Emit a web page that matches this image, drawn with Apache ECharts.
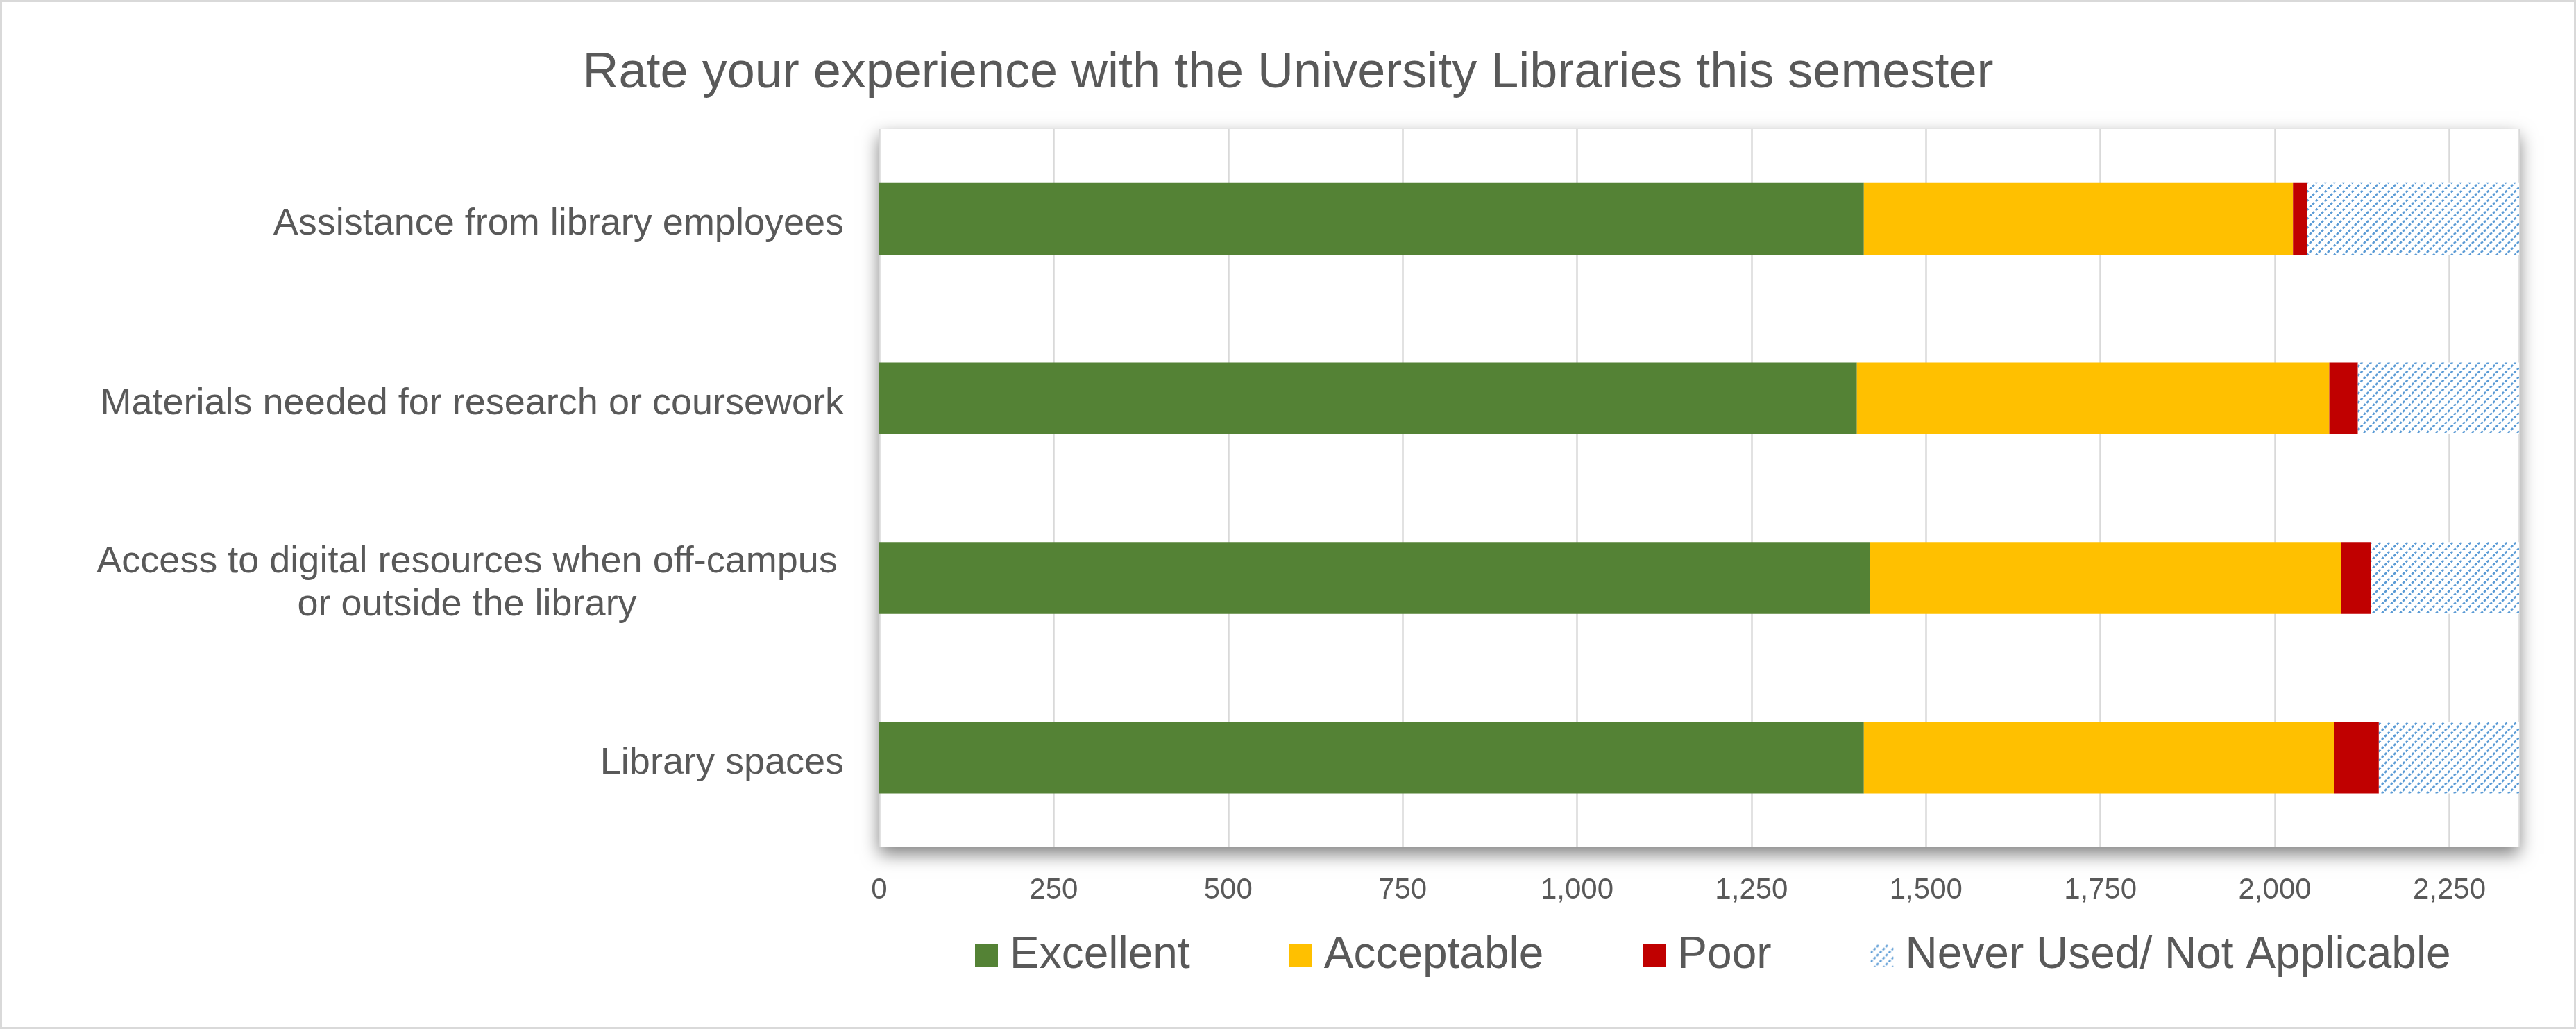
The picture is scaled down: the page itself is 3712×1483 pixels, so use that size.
<!DOCTYPE html>
<html>
<head>
<meta charset="utf-8">
<script src="https://cdn.jsdelivr.net/npm/echarts@6/dist/echarts.min.js"></script>
<style>
  html, body { margin: 0; padding: 0; background: #fff; }
  #chart { width: 3712px; height: 1483px; }
</style>
</head>
<body>
<div id="chart"></div>
<script>
const categories = [
  "Assistance from library employees",
  "Materials needed for research or coursework",
  "Access to digital resources when off-campus\nor outside the library",
  "Library spaces"
];
const seriesNames = ["Excellent", "Acceptable", "Poor", "Never Used/ Not Applicable"];
const excellent = [1411, 1401, 1420, 1411];
const acceptable = [615, 677, 675, 674];
const poor = [20, 41, 43, 64];
const neverUsed = [304, 231, 212, 201];
const xMax = 2350;
const xStep = 250;

const textColor = "#595959";
const font = "'Liberation Sans', Arial, sans-serif";

// blue dotted upward-diagonal hatch, like the Excel pattern fill
const makeHatch = () => {
  const size = 13;
  const c = document.createElement("canvas");
  c.width = size;
  c.height = size;
  const ctx = c.getContext("2d");
  ctx.fillStyle = "#fff";
  ctx.fillRect(0, 0, size, size);
  ctx.strokeStyle = "#5B9BD5";
  ctx.lineWidth = 2.8;
  const d = size * Math.SQRT2 / 3;
  ctx.setLineDash([d * 0.62, d * 0.38]);
  [0, 1, 2].forEach((k) => {
    ctx.beginPath();
    ctx.moveTo(k * size - size, size);
    ctx.lineTo(k * size, 0);
    ctx.stroke();
  });
  return c;
};

const colors = ["#548235", "#FFC000", "#C00000", { image: makeHatch(), repeat: "repeat" }];
const values = [excellent, acceptable, poor, neverUsed];

const chart = echarts.init(document.getElementById("chart"), null, { renderer: "canvas" });

const option = {
  backgroundColor: "#fff",
  animation: false,
  textStyle: { fontFamily: font },
  title: {
    text: "Rate your experience with the University Libraries this semester",
    left: "center",
    top: 65,
    textStyle: { color: textColor, fontSize: 72, fontWeight: "normal", fontFamily: font }
  },
  legend: {
    left: 1405,
    top: 1345,
    padding: 0,
    itemGap: 143,
    itemWidth: 33,
    itemHeight: 33,
    icon: "rect",
    textStyle: { color: textColor, fontSize: 64, fontFamily: font, padding: [0, 0, 0, 12] },
    data: seriesNames
  },
  grid: {
    left: 1267,
    right: 82,
    top: 186,
    bottom: 262,
    show: true,
    backgroundColor: "#fff",
    borderWidth: 0,
    shadowColor: "rgba(0,0,0,0.5)",
    shadowBlur: 24,
    shadowOffsetY: 10
  },
  xAxis: {
    type: "value",
    min: 0,
    max: xMax,
    interval: xStep,
    axisLine: { show: false },
    axisTick: { show: false },
    splitLine: { lineStyle: { color: "#d9d9d9", width: 2.5 } },
    axisLabel: {
      showMaxLabel: false,
      margin: 41,
      fontSize: 42,
      color: textColor,
      fontFamily: font,
      formatter: (v) => v.toLocaleString("en-US")
    }
  },
  yAxis: {
    type: "category",
    inverse: true,
    data: categories,
    axisLine: { show: false },
    axisTick: { show: false },
    axisLabel: {
      margin: 51,
      fontSize: 54,
      color: textColor,
      fontFamily: font,
      padding: [16, 0, 0, 0],
      formatter: (v) => v.includes("\n") ? v.split("\n").map((s) => "{c|" + s + "}").join("\n") : v,
      rich: {
        c: { width: 1086, align: "center", fontSize: 54, lineHeight: 62, color: textColor, fontFamily: font }
      }
    }
  },
  graphic: [{
    type: "rect",
    silent: true,
    shape: { x: 1.5, y: 1.5, width: 3709, height: 1480 },
    style: { fill: null, stroke: "#d9d9d9", lineWidth: 3 }
  }],
  series: seriesNames.map((name, i) => ({
    name: name,
    type: "bar",
    stack: "total",
    barWidth: "40%",
    itemStyle: { color: colors[i] },
    data: values[i]
  }))
};

chart.setOption(option);
</script>
</body>
</html>
